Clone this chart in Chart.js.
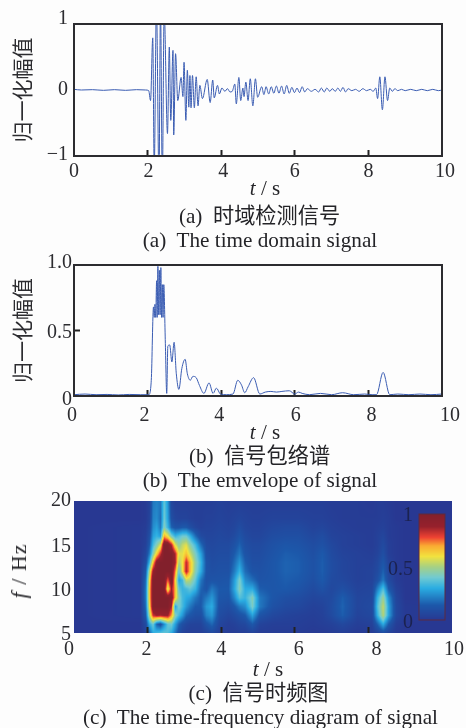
<!DOCTYPE html>
<html lang="zh"><head><meta charset="utf-8">
<script src="https://cdn.jsdelivr.net/npm/chart.js@4/dist/chart.umd.js"></script>
<style>
html,body{margin:0;padding:0;background:#fdfdfd;width:466px;height:728px;overflow:hidden}
#page{position:relative;width:466px;height:728px;filter:blur(0.55px)}
canvas{position:absolute;left:0}
.t{position:absolute;white-space:pre;transform:translate(-50%,-50%);color:#242428;font-family:"Liberation Serif","Noto Sans CJK SC",serif;line-height:1}
</style></head><body>
<div id="page">
<canvas id="c1" width="466" height="200" style="top:0"></canvas>
<canvas id="c2" width="466" height="200" style="top:240px"></canvas>
<canvas id="c3" width="466" height="200" style="top:480px"></canvas>
<div class="t" style="left:265px;top:188px;font-size:21px"><i>t</i> / s</div>
<div class="t" style="left:259.5px;top:217px;font-size:21.2px">(a)  时域检测信号</div>
<div class="t" style="left:260px;top:241px;font-size:21.2px">(a)  The time domain signal</div>
<div class="t" style="left:265px;top:432px;font-size:21px"><i>t</i> / s</div>
<div class="t" style="left:259.5px;top:457px;font-size:21.2px">(b)  信号包络谱</div>
<div class="t" style="left:260px;top:481px;font-size:21.2px">(b)  The emvelope of signal</div>
<div class="t" style="left:268px;top:669px;font-size:21px"><i>t</i> / s</div>
<div class="t" style="left:258.5px;top:694px;font-size:21.2px">(c)  信号时频图</div>
<div class="t" style="left:260.5px;top:718px;font-size:21.2px">(c)  The time-frequency diagram of signal</div>
<div class="t" style="left:19px;top:571px;font-size:22px;letter-spacing:1px;transform:translate(-50%,-50%) rotate(-90deg)"><i>f</i> / Hz</div>
</div>
<script>
// ---- panel (a): time-domain signal, extremes
const signalT = [0,.2,.5,.8,1.1,1.4,1.7,1.95,2.03,2.08,2.14,2.18,2.24,2.31,2.35,2.40,2.45,2.54,2.59,2.63,2.69,2.71,2.76,2.82,2.91,2.96,2.99,3.04,3.08,3.12,3.15,3.18,3.22,3.27,3.32,3.37,3.42,3.49,3.62,3.70,3.77,3.81,3.90,3.95,4.02,4.1,4.17,4.24,4.3,4.37,4.41,4.48,4.53,4.59,4.62,4.67,4.73,4.79,4.86,4.93,4.99,5.1,5.16,5.22,5.29,5.36,5.43,5.5,5.57,5.64,5.71,5.78,5.85,5.92,5.99,6.06,6.13,6.2,6.27,6.34,6.45,6.55,6.65,6.72,6.8,6.87,6.95,7.02,7.1,7.17,7.24,7.31,7.38,7.45,7.55,7.65,7.75,7.85,7.95,8.05,8.13,8.2,8.25,8.31,8.38,8.45,8.52,8.58,8.65,8.72,8.8,8.9,9.0,9.15,9.3,9.45,9.6,9.75,9.9,10];
const signalV = [.01,0,.005,-.005,.005,-.005,.005,0,-.01,-.16,.79,-1.2,1.3,-1.4,1.3,-1.4,1.2,-.66,.65,-.46,.6,-.68,.55,-.16,.19,-.1,.42,-.46,.3,-.26,.22,-.27,.22,-.27,.2,-.24,.07,-.13,.16,-.19,.15,-.12,.07,-.06,.03,-.02,.02,-.03,-.02,.09,-.21,.19,-.16,.03,-.1,.12,-.16,.17,-.24,.17,-.11,.05,-.07,.05,-.06,.05,-.05,.06,-.05,.06,-.06,.07,-.05,.04,-.04,.03,-.04,.05,-.03,.02,-.02,.01,-.03,.03,-.03,.03,-.02,.02,-.02,.03,-.02,.04,-.03,.02,-.01,.01,-.02,.02,-.01,.01,-.02,.03,-.13,.2,-.3,.2,-.16,.03,-.02,.02,-.01,.01,-.01,.01,-.01,.01,-.01,.01,-.01,0];
const signalYTicks = [-1,0,1];
const timeTicks = [0,2,4,6,8,10];

// ---- panel (b): envelope
const envelopeT = [0,.3,.6,.9,1.2,1.5,1.8,2.03,2.10,2.16,2.18,2.20,2.22,2.245,2.26,2.28,2.30,2.32,2.34,2.36,2.38,2.40,2.42,2.44,2.48,2.52,2.55,2.60,2.66,2.72,2.78,2.85,2.93,3.02,3.08,3.16,3.23,3.32,3.41,3.53,3.67,3.78,3.87,3.98,4.14,4.32,4.45,4.55,4.64,4.73,4.88,5.05,5.2,5.35,5.5,5.65,5.85,6.0,6.1,6.2,6.4,6.7,7.0,7.3,7.6,7.9,8.1,8.22,8.40,8.58,8.8,9.1,9.4,9.7,10];
const envelopeV = [.01,.015,.01,.012,.008,.012,.01,.01,.12,.68,.6,.7,.6,.88,.6,.99,.62,.96,.62,.98,.6,.85,.6,.85,.43,.02,.38,.39,.26,.41,.17,.05,.21,.28,.17,.12,.15,.14,.08,.02,.10,.02,.06,.015,.01,.015,.12,.085,.025,.07,.14,.015,.03,.035,.03,.035,.04,.015,.03,.02,.01,.02,.01,.025,.01,.015,.01,.01,.18,.01,.015,.01,.015,.01,.015];
const envelopeYTicks = [0,.5,1];

// ---- panel (c): time-frequency magnitude, read by eye (percent of full scale)
const freqTicks = [5,10,15,20];
const barTicks = [0,.5,1];
const gridT = [0,1.8,1.95,2.05,2.15,2.25,2.35,2.45,2.55,2.65,2.75,2.85,2.95,3.05,3.15,3.3,3.45,3.6,3.75,3.95,4.2,4.35,4.5,4.65,4.85,5.05,5.4,5.75,6.1,6.5,6.75,7.0,7.3,7.7,8.1,8.25,8.4,8.55,8.75,9,10.27];
const gridF = [20,18,17,16,15,14,13,12,11,10,9,8,7,6,5];
const power = [
 [0,0,1,4,20,22,20,38,26,6,3,3,3,3,3,3,3,3,3,4,3,3,3,3,3,3,3,3,3,3,3,2,2,2,1,2,2,1,0,0,0],
 [0,0,1,5,22,24,18,40,28,10,6,5,5,5,4,3,3,4,4,5,4,5,6,5,4,4,5,5,5,4,4,3,2,2,2,2,3,2,0,0,0],
 [0,1,2,7,24,28,20,44,32,16,12,12,14,14,10,6,4,5,5,6,5,6,9,6,5,5,7,8,8,5,6,4,3,2,2,3,4,2,1,0,0],
 [0,1,3,10,28,32,28,70,60,42,32,36,40,40,32,18,8,6,6,7,6,8,12,8,6,6,9,10,10,7,9,5,4,3,2,4,6,2,1,0,0],
 [0,1,4,14,34,44,58,100,100,85,58,46,54,58,46,34,18,8,7,8,8,11,16,10,8,8,11,13,12,9,11,7,4,3,2,4,8,3,1,0,0],
 [0,1,6,20,44,64,82,100,100,100,85,58,58,66,56,42,28,10,8,9,9,14,20,12,9,9,12,15,14,10,14,8,5,4,3,5,10,3,1,0,0],
 [0,1,9,32,66,95,100,100,100,100,88,50,60,84,68,46,32,12,9,10,10,17,26,15,10,10,13,16,15,11,15,9,6,4,4,7,13,5,1,0,0],
 [0,1,14,50,90,100,100,100,100,100,74,38,60,86,68,44,30,12,10,11,11,20,32,18,12,11,13,16,15,11,15,9,6,4,5,8,16,6,2,0,0],
 [0,1,18,60,100,100,100,100,76,100,64,28,34,54,52,38,20,11,12,12,13,26,42,24,18,12,13,15,14,10,14,8,7,4,5,11,20,8,2,0,0],
 [0,1,20,64,100,100,100,100,55,88,68,38,32,34,38,32,16,12,20,14,14,28,44,30,30,15,13,14,12,8,11,7,10,5,6,22,36,14,4,0,0],
 [0,1,20,64,100,100,100,100,100,96,66,44,34,30,28,20,14,20,26,13,12,22,36,32,44,20,13,10,9,6,7,8,15,6,7,32,48,24,6,0,0],
 [0,1,18,60,100,100,100,100,100,86,28,42,34,26,20,14,14,26,30,11,9,13,20,24,42,20,11,8,7,4,5,9,16,6,8,36,54,28,7,1,0],
 [0,1,14,50,82,88,86,88,88,70,44,34,26,16,13,10,10,22,26,9,6,8,11,14,28,12,7,5,4,3,4,8,15,5,7,32,52,28,7,1,0],
 [0,0,8,30,40,16,10,24,38,40,28,16,10,7,5,5,5,12,17,6,3,4,6,7,14,5,3,3,3,2,3,4,7,3,4,16,30,14,3,0,0],
 [0,0,5,16,30,34,36,38,36,30,20,10,5,3,3,3,3,5,8,3,2,2,3,3,5,2,2,2,2,1,1,2,3,1,2,5,9,5,1,0,0]
];

// colour ramp: position, r, g, b
const rampPos = [0,.14,.3,.4,.5,.6,.7,.78,.88,1];
const rampRGB = [[40,56,146],[28,88,170],[42,172,226],[112,202,210],[165,208,132],[242,226,62],[250,170,50],[238,66,50],[150,32,44],[130,32,44]];
function ramp(v){
  v=Math.max(0,Math.min(1,v));
  let i=0; while(i<rampPos.length-2 && v>rampPos[i+1]) i++;
  const k=(v-rampPos[i])/(rampPos[i+1]-rampPos[i]);
  return rampRGB[i].map((c,j)=>c+(rampRGB[i+1][j]-c)*k);
}
function locate(arr,x){ // index + fraction in a monotone array
  const asc=arr[1]>arr[0];
  for(let i=0;i<arr.length-1;i++){
    if(asc? x<=arr[i+1] : x>=arr[i+1]) return [i,(x-arr[i])/(arr[i+1]-arr[i])];
  }
  return [arr.length-2,1];
}
function sample(t,f){
  const [i,a]=locate(gridT,t), [j,b]=locate(gridF,f);
  const p=power;
  return ((1-a)*(1-b)*p[j][i]+a*(1-b)*p[j][i+1]+(1-a)*b*p[j+1][i]+a*b*p[j+1][i+1])/100;
}

const INK='#2c2c30', SERIF='"Liberation Serif",serif';
const framePlugin={id:'frame',afterDatasetsDraw(ch,_,o){
  if(!o.show) return;
  const a=ch.chartArea,c=ch.ctx;
  c.save();c.strokeStyle=INK;c.lineWidth=2;c.strokeRect(a.left,a.top,a.right-a.left,a.bottom-a.top);c.restore();
}};
const shiftPlugin={id:'shift',beforeDraw(ch,_,o){
  for(const id of ['x','y']){
    const s=ch.scales[id],items=s.getLabelItems(),d=o[id];
    if(!d||items._done) continue;
    items.forEach((it,k)=>{it.options.translation[0]+=d.dx[k]||0;it.options.translation[1]+=d.dy[k]||0;});
    items._done=true;
  }
}};
const heatPlugin={id:'heat',beforeDraw(ch,_,o){
  if(!o.show) return;
  const a=ch.chartArea,c=ch.ctx,X=ch.scales.x,Y=ch.scales.y;
  const L=Math.round(a.left),T=Math.round(a.top),w=Math.round(a.right-a.left),h=Math.round(a.bottom-a.top);
  const img=c.createImageData(w,h);
  for(let py=0;py<h;py++){
    const f=Y.getValueForPixel(T+py+.5);
    for(let px=0;px<w;px++){
      const col=ramp(sample(X.getValueForPixel(L+px+.5),f)),n=4*(py*w+px);
      img.data[n]=col[0];img.data[n+1]=col[1];img.data[n+2]=col[2];img.data[n+3]=255;
    }
  }
  c.putImageData(img,L,T);
},afterDatasetsDraw(ch,_,o){
  if(!o.show) return;
  const c=ch.ctx,x0=419,x1=445,y0=34,y1=140; // colour bar box
  for(let y=y0;y<y1;y++){
    const col=ramp((y1-y-.5)/(y1-y0));
    c.fillStyle=`rgb(${col[0]},${col[1]},${col[2]})`;c.fillRect(x0,y,x1-x0,1);
  }
  c.strokeStyle='#5a2a40';c.lineWidth=1;c.strokeRect(x0,y0,x1-x0,y1-y0);
  c.fillStyle='#1b2250';c.font='20px '+SERIF;c.textAlign='right';c.textBaseline='middle';
  const py=[36,90,143];
  barTicks.forEach((v,k)=>c.fillText(String(v),413,py[2-k]));
}};

function axes(p){
  return {
    x:{type:'linear',min:0,max:p.xMax,
      afterBuildTicks:s=>{s.ticks=timeTicks.map(value=>({value}));},
      afterFit:s=>{s.height=p.xH;},
      border:{display:!p.heat,color:INK,width:2},
      grid:{drawOnChartArea:false,drawTicks:true,tickLength:-6,tickWidth:2,
        tickColor:c=>(c.tick&&(c.tick.value===0||c.tick.value===10))?'rgba(0,0,0,0)':'#222'},
      ticks:{autoSkip:false,maxRotation:0,padding:p.xPad,color:INK,font:{family:SERIF,size:20},callback:v=>String(v)}
    },
    y:{type:'linear',min:p.yMin,max:p.yMax,
      afterBuildTicks:s=>{s.ticks=p.yTicks.map(value=>({value}));},
      afterFit:s=>{s.width=74;},
      border:{display:!p.heat,color:INK,width:2},
      grid:{drawOnChartArea:false,drawTicks:true,tickLength:p.yTick,tickWidth:2,
        tickColor:c=>(c.tick&&p.yTickOn&&p.yTickOn.includes(c.tick.value))?'#222':'rgba(0,0,0,0)'},
      ticks:{autoSkip:false,padding:p.yPad,color:INK,font:{family:SERIF,size:20},callback:p.fmt},
      title:{display:!!p.yTitle,text:p.yTitle,color:INK,padding:{top:9,bottom:0},font:{family:'"Noto Sans CJK SC",sans-serif',size:21}}
    }
  };
}
function make(id,p,datasets){
  return new Chart(document.getElementById(id),{
    type:'scatter',
    data:{datasets},
    plugins:[framePlugin,shiftPlugin,heatPlugin],
    options:{responsive:false,animation:false,
      layout:{padding:{top:p.top,right:466-p.right,left:0,bottom:0}},
      scales:axes(p),
      plugins:{legend:{display:false},tooltip:{enabled:false},
        frame:{show:!p.heat},heat:{show:!!p.heat},
        shift:{x:p.xShift,y:p.yShift}}
    }
  });
}
const zip=(a,b)=>a.map((x,i)=>({x,y:b[i]}));
const LINE='#3a5cb2';
make('c1',{top:24,right:442,xH:44,xMax:10,yMin:-1,yMax:1,yTicks:signalYTicks,yTick:-6,yTickOn:[],yPad:12,xPad:10,
  fmt:v=>v===-1?'\u22121':String(v),yTitle:'归一化幅值',
  xShift:{dx:[0,1,2,0,0,3],dy:[0,0,0,0,0,0]},yShift:{dx:[0,0,0],dy:[-1,0,-5]}},
  [{data:zip(signalT,signalV),showLine:true,pointRadius:0,borderColor:LINE,borderWidth:1,cubicInterpolationMode:'monotone'}]);
make('c2',{top:25,right:442,xH:44,xMax:10,yMin:0,yMax:1,yTicks:envelopeYTicks,yTick:-6,yTickOn:[.5],yPad:8,xPad:14,
  fmt:v=>v===0?'0':v.toFixed(1),yTitle:'归一化幅值',
  xShift:{dx:[-2,-3,-2,1,3,8],dy:[0,0,0,0,0,0]},yShift:{dx:[0,0,0],dy:[4,2,-2]}},
  [{data:zip(envelopeT,envelopeV),showLine:true,pointRadius:0,borderColor:LINE,borderWidth:1,cubicInterpolationMode:'monotone'}]);
make('c3',{top:21,right:452,xH:47,xMax:10.27,yMin:5,yMax:20,yTicks:freqTicks,yTick:-6,yTickOn:[],yPad:9,xPad:11,heat:true,
  fmt:v=>String(v),yTitle:'',
  xShift:{dx:[-5,-1,0,4,8,12],dy:[0,0,0,0,0,0]},yShift:{dx:[0,0,0,0],dy:[2,2,2,0]}},
  [{data:gridT.flatMap((x,i)=>gridF.map((y,j)=>({x,y,v:power[j][i]}))),pointRadius:0,showLine:false}]);
</script>
</body></html>
